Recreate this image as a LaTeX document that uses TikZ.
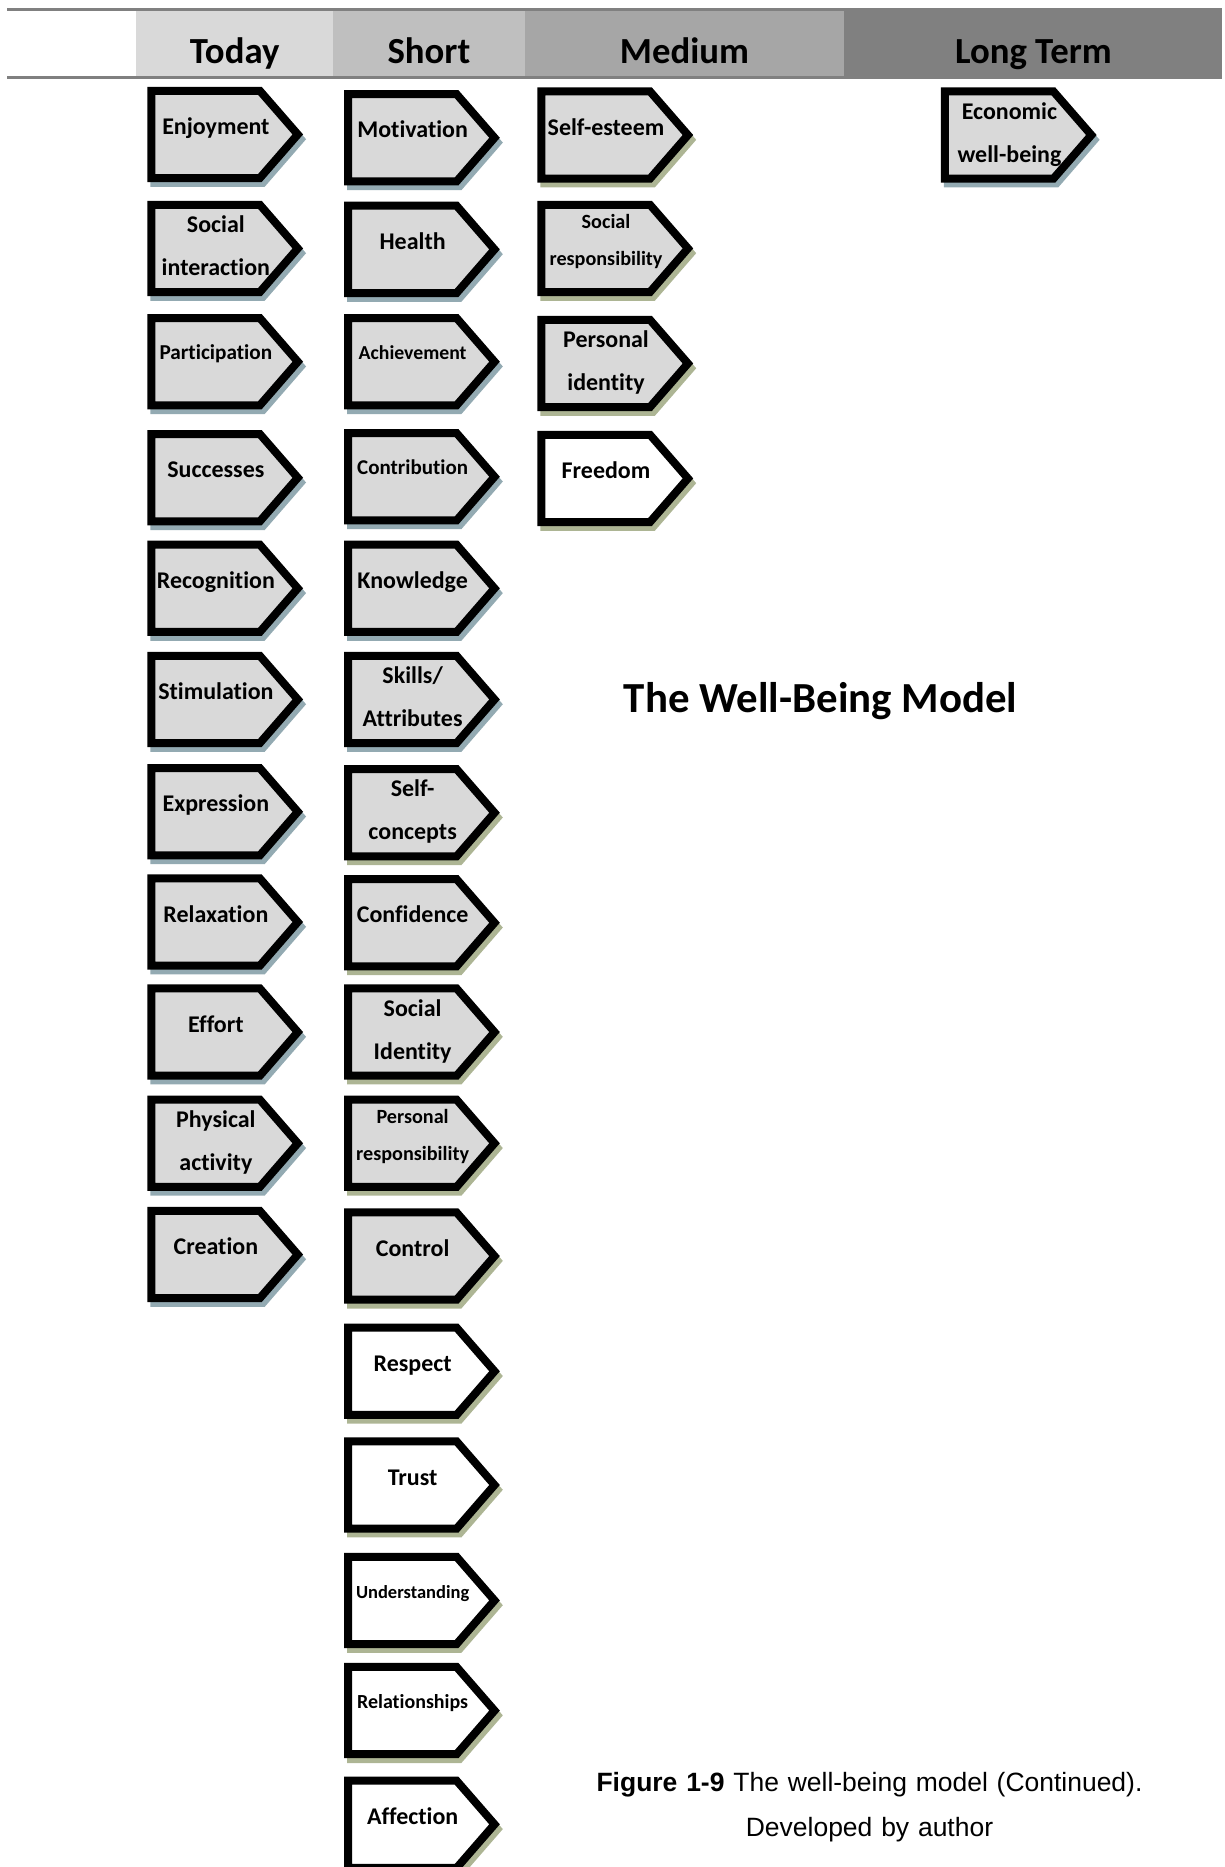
\documentclass[tikz,border=0pt]{standalone}
\usepackage{fontspec}
\setmainfont{Carlito}[Ligatures={NoCommon,NoRequired,NoContextual}]
\newfontfamily\capfont{Liberation Sans}
\usetikzlibrary{shapes.symbols}

\definecolor{hdtoday}{HTML}{D9D9D9}
\definecolor{hdshort}{HTML}{BFBFBF}
\definecolor{hdmedium}{HTML}{A6A6A6}
\definecolor{hdlong}{HTML}{808080}
\definecolor{tagfill}{HTML}{D9D9D9}
\definecolor{shblue}{HTML}{93AAB2}
\definecolor{sholive}{HTML}{ADB594}

\tikzset{
	tag/.style={signal, signal to=east, signal from=nowhere, signal pointer angle=98,
		draw=black, line width=3.8pt, fill=tagfill, inner sep=0pt, outer sep=0pt,
		minimum width=2.45cm, minimum height=1.46cm, anchor=west,
		preaction={draw=#1, fill=#1, transform canvas={xshift=0.05cm, yshift=-0.08cm}}},
	tag/.default=shblue,
	lab/.style={anchor=base, text width=2.8cm, align=center, inner sep=0pt,
		font=\bfseries\fontsize{11.4}{20.5}\selectfont},
	labsmall/.style={lab, font=\bfseries\fontsize{9.6}{17.4}\selectfont},
	head/.style={anchor=base, font=\bfseries\fontsize{17.5}{21}\selectfont}
}

\begin{document}
\begin{tikzpicture}[x=0.02cm, y=-0.02cm]
		\useasboundingbox (0,0) rectangle (1024,1561);
		\clip (0,0) rectangle (1024,1561);
		% header bar
		\fill[hdtoday] (114,7.8) rectangle (278.5,64.4);
		\fill[hdshort] (278.5,7.8) rectangle (438.7,64.4);
		\fill[hdmedium] (438.7,7.8) rectangle (706,64.4);
		\fill[hdlong] (706,7.8) rectangle (1022,64.4);
		\draw[hdlong, line width=0.05cm] (6,7.8) -- (1022,7.8) (6,64.4) -- (1022,64.4);
		\node[head] (today) at (196.2,53.2) {Today};
		\node[head] (short) at (358.6,53.2) {Short};
		\node[head] (medium) at (572.3,53.2) {Medium};
		\node[head] (long) at (864,53.2) {Long Term};
		% today
		\node[tag] (enjoy) at (126.5,112.4) {};
		\node[lab] (enjoy-t) at ([shift={(54,0)}]enjoy.west) {Enjoyment};
		\node[tag] (social) at (126.5,207.7) {};
		\node[lab] (social-t) at ([shift={(54,-13.3)}]social.west) {Social\\interaction};
		\node[tag] (particip) at (126.5,302.4) {};
		\node[labsmall, font=\bfseries\fontsize{10.1}{17.4}\selectfont] (particip-t) at ([shift={(54,-2)}]particip.west) {Participation};
		\node[tag] (success) at (126.5,399.4) {};
		\node[lab] (success-t) at ([shift={(54,0)}]success.west) {Successes};
		\node[tag] (recog) at (126.5,491.9) {};
		\node[lab] (recog-t) at ([shift={(54,0)}]recog.west) {Recognition};
		\node[tag] (stimul) at (126.5,584.8) {};
		\node[lab] (stimul-t) at ([shift={(54,0)}]stimul.west) {Stimulation};
		\node[tag] (express) at (126.5,678.7) {};
		\node[lab] (express-t) at ([shift={(54,0)}]express.west) {Expression};
		\node[tag] (relax) at (126.5,770.9) {};
		\node[lab] (relax-t) at ([shift={(54,0)}]relax.west) {Relaxation};
		\node[tag] (effort) at (126.5,862.9) {};
		\node[lab] (effort-t) at ([shift={(54,0)}]effort.west) {Effort};
		\node[tag] (physical) at (126.5,955.9) {};
		\node[lab] (physical-t) at ([shift={(54,-13.3)}]physical.west) {Physical\\activity};
		\node[tag] (creation) at (126.5,1048.9) {};
		\node[lab] (creation-t) at ([shift={(54,0)}]creation.west) {Creation};
		% short
		\node[tag] (motiv) at (291,115.2) {};
		\node[lab] (motiv-t) at ([shift={(54,0)}]motiv.west) {Motivation};
		\node[tag] (health) at (291,208.5) {};
		\node[lab] (health-t) at ([shift={(54,0)}]health.west) {Health};
		\node[tag] (achieve) at (291,302.4) {};
		\node[labsmall, font=\bfseries\fontsize{9.4}{17.4}\selectfont] (achieve-t) at ([shift={(54,-2)}]achieve.west) {Achievement};
		\node[tag] (contrib) at (291,398.6) {};
		\node[labsmall, font=\bfseries\fontsize{10}{17.4}\selectfont] (contrib-t) at ([shift={(54,-2)}]contrib.west) {Contribution};
		\node[tag] (knowl) at (291,491.9) {};
		\node[lab] (knowl-t) at ([shift={(54,0)}]knowl.west) {Knowledge};
		\node[tag] (skills) at (291,584.8) {};
		\node[lab] (skills-t) at ([shift={(54,-13.3)}]skills.west) {Skills/\\Attributes};
		\node[tag=sholive] (selfcon) at (291,679.5) {};
		\node[lab] (selfcon-t) at ([shift={(54,-13.3)}]selfcon.west) {Self-\\concepts};
		\node[tag=sholive] (confid) at (291,771.5) {};
		\node[lab] (confid-t) at ([shift={(54,0)}]confid.west) {Confidence};
		\node[tag=sholive] (socid) at (291,862.9) {};
		\node[lab] (socid-t) at ([shift={(54,-13.3)}]socid.west) {Social\\Identity};
		\node[tag=sholive] (persresp) at (291,955.9) {};
		\node[labsmall] (persresp-t) at ([shift={(54,-16.5)}]persresp.west) {Personal\\responsibility};
		\node[tag=sholive] (control) at (291,1050.2) {};
		\node[lab] (control-t) at ([shift={(54,0)}]control.west) {Control};
		\node[tag=sholive, fill=white] (respect) at (291,1146.5) {};
		\node[lab] (respect-t) at ([shift={(54,0)}]respect.west) {Respect};
		\node[tag=sholive, fill=white] (trust) at (291,1241.6) {};
		\node[lab] (trust-t) at ([shift={(54,0)}]trust.west) {Trust};
		\node[tag=sholive, fill=white] (underst) at (291,1338.1) {};
		\node[labsmall, font=\bfseries\fontsize{8.8}{17.4}\selectfont] (underst-t) at ([shift={(54,-2)}]underst.west) {Understanding};
		\node[tag=sholive, fill=white] (relat) at (291,1430.2) {};
		\node[labsmall, font=\bfseries\fontsize{9.5}{17.4}\selectfont] (relat-t) at ([shift={(54,-2)}]relat.west) {Relationships};
		\node[tag=sholive, fill=white] (affect) at (291,1525.3) {};
		\node[lab] (affect-t) at ([shift={(54,0)}]affect.west) {Affection};
		% medium
		\node[tag=sholive] (esteem) at (452.7,112.9) {};
		\node[lab] (esteem-t) at ([shift={(54,0)}]esteem.west) {Self-esteem};
		\node[tag=sholive] (socresp) at (452.7,207.7) {};
		\node[labsmall] (socresp-t) at ([shift={(54,-16.5)}]socresp.west) {Social\\responsibility};
		\node[tag=sholive] (persid) at (452.7,303.9) {};
		\node[lab] (persid-t) at ([shift={(54,-13.3)}]persid.west) {Personal\\identity};
		\node[tag=sholive, fill=white] (freedom) at (452.7,400) {};
		\node[lab] (freedom-t) at ([shift={(54,0)}]freedom.west) {Freedom};
		% long term
		\node[tag] (econ) at (790,112.9) {};
		\node[lab] (econ-t) at ([shift={(54,-13.3)}]econ.west) {Economic\\well-being};
		% title and caption
		\node[anchor=base, font=\bfseries\fontsize{20.4}{24}\selectfont] (title) at (686,595.9) {The Well-Being Model};
		\node[anchor=base, text width=10cm, align=center, inner sep=0pt, font=\capfont\fontsize{12.6}{21.5}\selectfont] (caption) at (727,1498) {\textbf{Figure 1-9} The well-being model (Continued).\\Developed by author};
	\end{tikzpicture}
\end{document}
